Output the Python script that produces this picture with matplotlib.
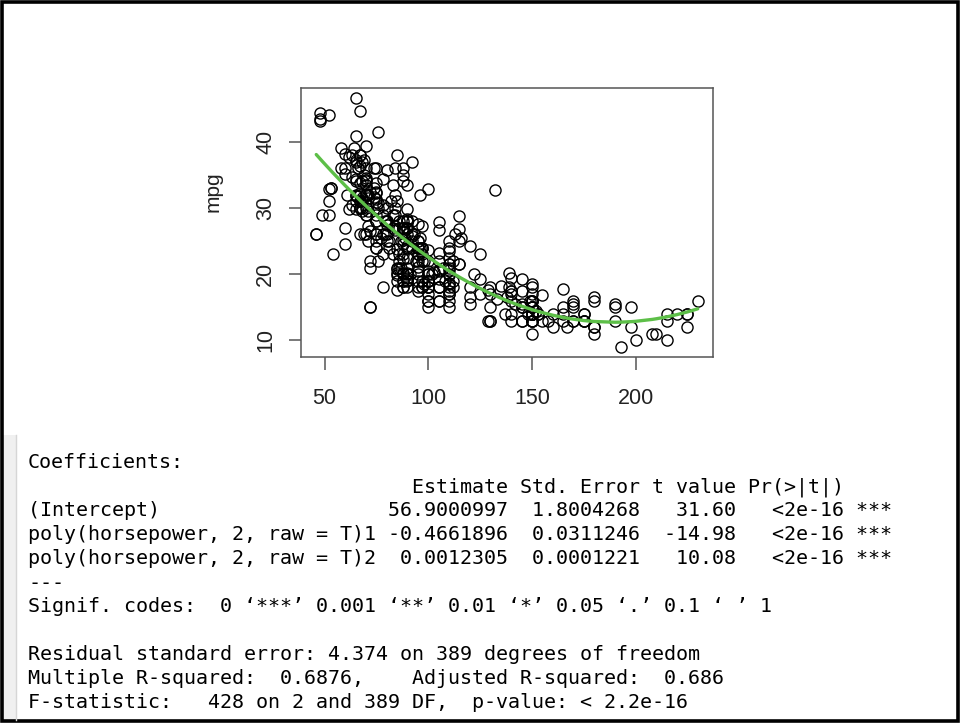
import numpy as np
import matplotlib
matplotlib.use("Agg")
import matplotlib.pyplot as plt
from matplotlib.patches import Rectangle

# ── Auto data: horsepower / mpg (392 complete rows) ──
horsepower = [
    130, 165, 150, 150, 140, 198, 220, 215, 225, 190, 170, 160, 150, 225, 95, 95, 97, 85, 88, 46,
    87, 90, 95, 113, 90, 215, 200, 210, 193, 88, 90, 95, 100, 105, 100, 88, 100, 165, 175, 153,
    150, 180, 170, 175, 110, 72, 100, 88, 86, 90, 70, 76, 65, 69, 60, 70, 95, 80, 54, 90,
    86, 165, 175, 150, 153, 150, 208, 155, 160, 190, 97, 150, 130, 140, 150, 112, 76, 87, 69, 86,
    92, 97, 80, 88, 175, 150, 145, 137, 150, 198, 150, 158, 150, 215, 225, 175, 105, 100, 100, 88,
    95, 46, 150, 167, 170, 180, 100, 88, 72, 94, 90, 85, 107, 90, 145, 230, 49, 75, 91, 112,
    150, 110, 122, 180, 95, 100, 100, 67, 80, 65, 75, 100, 110, 105, 140, 150, 150, 140, 150, 83,
    67, 78, 52, 61, 75, 75, 75, 97, 93, 67, 95, 105, 72, 72, 170, 145, 150, 148, 110, 105,
    110, 95, 110, 110, 129, 75, 83, 100, 78, 96, 71, 97, 97, 70, 90, 95, 88, 98, 115, 53,
    86, 81, 92, 79, 83, 140, 150, 120, 152, 100, 105, 81, 90, 52, 60, 70, 53, 100, 78, 110,
    95, 71, 70, 75, 72, 102, 150, 88, 108, 120, 180, 145, 130, 150, 68, 80, 58, 96, 70, 145,
    110, 145, 130, 110, 105, 100, 98, 180, 170, 190, 149, 78, 88, 75, 89, 63, 83, 67, 78, 97,
    110, 110, 48, 66, 52, 70, 60, 110, 140, 139, 105, 95, 85, 88, 100, 90, 105, 85, 110, 120,
    145, 165, 139, 140, 68, 95, 97, 75, 95, 105, 85, 97, 103, 125, 115, 133, 71, 68, 115, 85,
    88, 90, 110, 130, 129, 138, 135, 155, 142, 125, 150, 71, 65, 80, 80, 77, 125, 71, 90, 70,
    70, 65, 69, 90, 115, 115, 90, 76, 60, 70, 65, 90, 88, 90, 90, 78, 90, 75, 92, 75,
    65, 105, 65, 48, 48, 67, 67, 67, 67, 62, 132, 100, 88, 72, 84, 84, 92, 110, 84, 58,
    64, 60, 67, 65, 62, 68, 63, 65, 65, 74, 75, 75, 100, 74, 80, 76, 116, 120, 110, 105,
    88, 85, 88, 88, 88, 85, 84, 90, 92, 74, 68, 68, 63, 70, 88, 75, 70, 67, 67, 67,
    110, 85, 92, 112, 96, 84, 90, 86, 52, 84, 79, 82,
]
mpg = [
    18, 15, 18, 16, 17, 15, 14, 14, 14, 15, 15, 14, 15, 14, 24, 22, 18, 21, 27, 26,
    25, 24, 25, 26, 21, 10, 10, 11, 9, 27, 28, 25, 19, 16, 17, 19, 18, 14, 14, 14,
    14, 12, 13, 13, 18, 22, 19, 18, 23, 28, 30, 30, 31, 35, 27, 26, 24, 25, 23, 20,
    21, 13, 14, 15, 14, 17, 11, 13, 12, 13, 19, 15, 13, 13, 14, 18, 22, 21, 26, 22,
    28, 23, 28, 27, 13, 14, 13, 14, 15, 12, 13, 13, 14, 13, 12, 13, 18, 16, 18, 18,
    23, 26, 11, 12, 13, 12, 18, 20, 21, 22, 18, 19, 21, 26, 15, 16, 29, 24, 20, 19,
    15, 24, 20, 11, 20, 19, 15, 31, 26, 32, 25, 16, 16, 18, 16, 13, 14, 14, 14, 29,
    26, 26, 31, 32, 28, 24, 26, 24, 26, 31, 19, 18, 15, 15, 16, 15, 16, 14, 17, 16,
    15, 18, 21, 20, 13, 29, 23, 20, 23, 24, 25, 24, 18, 29, 19, 23, 23, 22, 25, 33,
    28, 25, 25, 26, 27, 17.5, 16, 15.5, 14.5, 22, 22, 24, 22.5, 29, 24.5, 29, 33, 20, 18, 18.5,
    17.5, 29.5, 32, 28, 26.5, 20, 13, 19, 19, 16.5, 16.5, 13, 13, 13, 31.5, 30, 36, 25.5, 33.5, 17.5,
    17, 15.5, 15, 17.5, 20.5, 19, 18.5, 16, 15.5, 15.5, 16, 29, 24.5, 26, 25.5, 30.5, 33.5, 30, 30.5, 22,
    21.5, 21.5, 43.1, 36.1, 32.8, 39.4, 36.1, 19.9, 19.4, 20.2, 19.2, 20.5, 20.2, 25.1, 20.5, 19.4, 20.6, 20.8, 18.6, 18.1,
    19.2, 17.7, 18.1, 17.5, 30, 27.5, 27.2, 30.9, 21.1, 23.2, 23.8, 23.9, 20.3, 17, 21.6, 16.2, 31.5, 29.5, 21.5, 19.8,
    22.3, 20.2, 20.6, 17, 17.6, 16.5, 18.2, 16.9, 15.5, 19.2, 18.5, 31.9, 34.1, 35.7, 27.4, 25.4, 23, 27.2, 23.9, 34.2,
    34.5, 31.8, 37.3, 28.4, 28.8, 26.8, 33.5, 41.5, 38.1, 32.1, 37.2, 28, 26.4, 24.3, 19.1, 34.3, 29.8, 31.3, 37, 32.2,
    46.6, 27.9, 40.8, 44.3, 43.4, 36.4, 30, 44.6, 33.8, 29.8, 32.7, 23.7, 35, 32.4, 27.2, 26.6, 25.8, 23.5, 30, 39.1,
    39, 35.1, 32.3, 37, 37.7, 34.1, 34.7, 34.4, 29.9, 33, 33.7, 32.4, 32.9, 31.6, 28.1, 30.7, 25.4, 24.2, 22.4, 26.6,
    20.2, 17.6, 28, 27, 34, 31, 29, 27, 24, 36, 37, 31, 38, 36, 36, 36, 34, 38, 32, 38,
    25, 38, 26, 22, 32, 36, 27, 27, 44, 32, 28, 31,
]

# lm(mpg ~ poly(horsepower, 2, raw = T)) coefficients (highest power first)
fit_coef = [0.0012305, -0.4661896, 56.9000997]

x_ticks = [50, 100, 150, 200]
y_ticks = [10, 20, 30, 40]

summary_lines = [
    "Coefficients:",
    " " * 32 + "Estimate Std. Error t value Pr(>|t|)",
    "(Intercept)" + " " * 19 + "56.9000997  1.8004268   31.60   <2e-16 ***",
    "poly(horsepower, 2, raw = T)1 -0.4661896  0.0311246  -14.98   <2e-16 ***",
    "poly(horsepower, 2, raw = T)2  0.0012305  0.0001221   10.08   <2e-16 ***",
    "---",
    "Signif. codes:  0 \u2018***\u2019 0.001 \u2018**\u2019 0.01 \u2018*\u2019 0.05 \u2018.\u2019 0.1 \u2018 \u2019 1",
    "",
    "Residual standard error: 4.374 on 389 degrees of freedom",
    "Multiple R-squared:  0.6876,    Adjusted R-squared:  0.686",
    "F-statistic:   428 on 2 and 389 DF,  p-value: < 2.2e-16",
]

W, H = 960, 723
fig = plt.figure(figsize=(W / 100, H / 100), dpi=100, facecolor="white")

def fx(px):
    return px / W

def fy(py):
    return 1 - py / H

# ── scatter panel (R base graphics look) ──
ax = fig.add_axes([fx(301), fy(357), fx(713) - fx(301), fy(88) - fy(357)])
hp = np.array(horsepower, dtype=float)
ax.plot(hp, mpg, "o", ms=8, mfc="none", mec="black", mew=1.0, ls="none")

xs = np.sort(hp)
ax.plot(xs, np.polyval(fit_coef, xs), color="#5dbf48", lw=2.4, solid_capstyle="round")

xr = max(horsepower) - min(horsepower)
yr = max(mpg) - min(mpg)
ax.set_xlim(min(horsepower) - 0.04 * xr, max(horsepower) + 0.04 * xr)
ax.set_ylim(min(mpg) - 0.04 * yr, max(mpg) + 0.04 * yr)
ax.set_xticks(x_ticks)
ax.set_yticks(y_ticks)
ax.set_xticklabels([str(v) for v in x_ticks])
ax.set_yticklabels([str(v) for v in y_ticks], rotation=90, va="center")
for sp in ax.spines.values():
    sp.set_edgecolor("#555555")
    sp.set_linewidth(1.1)
ax.tick_params(length=9, width=1.1, color="#555555", labelsize=15.5,
               labelcolor="#222222")
ax.tick_params(axis="x", pad=13)
ax.tick_params(axis="y", pad=9)
for lab in ax.get_xticklabels() + ax.get_yticklabels():
    lab.set_family("Liberation Sans")

fig.text(fx(213), fy(192), "mpg", rotation=90, ha="center", va="center",
         fontsize=15, family="Liberation Sans", color="#222222")

# ── console output panel ──
fig.patches.append(Rectangle((fx(3), fy(720)), fx(13), fy(435) - fy(720),
                             transform=fig.transFigure, facecolor="#f0f0f0",
                             edgecolor="none"))
fig.lines.append(plt.Line2D([fx(16), fx(16)], [fy(720), fy(435)],
                            transform=fig.transFigure, color="#d6d6d6", lw=1))

line_y = [463, 487, 511, 535, 559, 583, 607, 631, 655, 679, 703]
for txt, py in zip(summary_lines, line_y):
    if txt:
        fig.text(fx(28), fy(py), txt, ha="left", va="center",
                 family="DejaVu Sans Mono", fontsize=14.42, color="black")

# outer frame of the screenshot
fig.patches.append(Rectangle((fx(1.5), fy(721)), fx(956), fy(1.5) - fy(721),
                             transform=fig.transFigure, facecolor="none",
                             edgecolor="black", lw=2.6))

fig.savefig("out.png", dpi=100, facecolor="white")
